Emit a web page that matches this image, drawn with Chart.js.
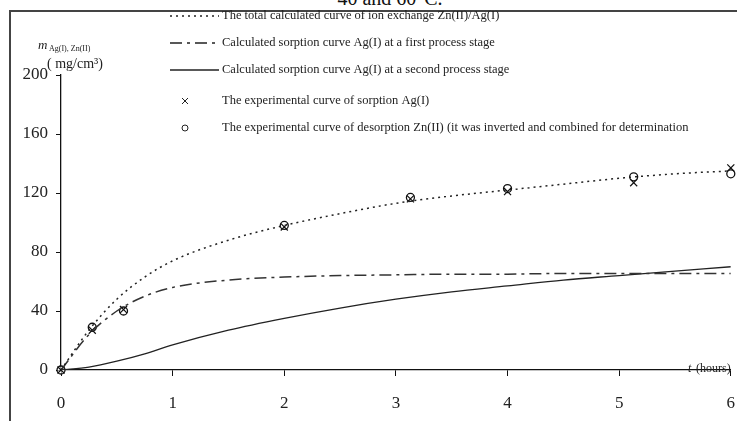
<!DOCTYPE html>
<html>
<head>
<meta charset="utf-8">
<script src="https://cdn.jsdelivr.net/npm/chart.js@4"></script>
<style>
  body { margin: 0; background: #fff; }
  #wrap { position: relative; width: 737px; height: 421px; overflow: hidden; }
  #title { position: absolute; left: 0; width: 780px; top: -13px; text-align: center;
           font: 20px "Liberation Serif", serif; color: #111; }
  #frame { position: absolute; left: 9px; top: 10px; width: 740px; height: 420px;
           border-left: 2px solid #444; border-top: 2px solid #444; }
  canvas { position: absolute; left: 0; top: 0; }
</style>
</head>
<body>
<div id="wrap">
  <div id="title">40 and 60°C.</div>
  <div id="frame"></div>
  <canvas id="chart" width="737" height="421"></canvas>
</div>
<script>
// time (hours) for calculated curves
const tCalc = [0, 0.25, 0.5, 0.75, 1, 1.5, 2, 2.5, 3, 3.5, 4, 4.5, 5, 5.5, 6];
const totalCurve = [0, 27, 48, 63, 74, 88, 98, 106, 113, 118, 122, 126, 130, 133, 135];
const stage1Curve = [0, 24, 40, 50, 56, 61, 63, 64, 64.5, 65, 65, 65.5, 65.5, 65.5, 65.5];
const stage2Curve = [0, 2, 6, 11, 17, 27, 35, 42, 48, 53, 57, 61, 64, 67, 70];

// experimental points
const tExp = [0, 0.28, 0.56, 2, 3.13, 4, 5.13, 6];
const agSorption = [0, 27, 41, 97, 116, 121, 127, 137];
const znDesorption = [0, 29, 40, 98, 117, 123, 131, 133];

const yTicks = [0, 40, 80, 120, 160, 200];

const legendLabels = [
  "The total calculated curve of ion exchange Zn(II)/Ag(I)",
  "Calculated sorption curve Ag(I) at a first process stage",
  "Calculated sorption curve Ag(I) at a second process stage",
  "The experimental curve of sorption Ag(I)",
  "The experimental curve of desorption Zn(II) (it was inverted and combined for determination"
];

function pts(xs, ys) {
  return xs.map((x, i) => ({ x: x, y: ys[i] }));
}

const serif = '"Liberation Serif", "Times New Roman", serif';

const decorPlugin = {
  id: "decor",
  afterDraw(chart) {
    const ctx = chart.ctx;
    ctx.save();
    ctx.fillStyle = "#222";
    ctx.strokeStyle = "#222";
    ctx.textBaseline = "middle";

    // custom legend
    const rows = [16, 43, 70, 101, 128];
    chart.data.datasets.forEach((ds, i) => {
      const y = rows[i];
      if (ds.showLine) {
        ctx.beginPath();
        ctx.lineWidth = ds.borderWidth;
        ctx.setLineDash(ds.borderDash || []);
        ctx.moveTo(170, y);
        ctx.lineTo(219, y);
        ctx.stroke();
        ctx.setLineDash([]);
      } else {
        const cx = 185;
        ctx.lineWidth = 1;
        ctx.beginPath();
        if (ds.pointStyle === "crossRot") {
          ctx.moveTo(cx - 3, y - 3); ctx.lineTo(cx + 3, y + 3);
          ctx.moveTo(cx + 3, y - 3); ctx.lineTo(cx - 3, y + 3);
        } else {
          ctx.arc(cx, y, 3, 0, Math.PI * 2);
        }
        ctx.stroke();
      }
      ctx.font = "12.5px " + serif;
      ctx.textAlign = "left";
      ctx.fillText(legendLabels[i], 222, y);
    });

    // y axis title
    ctx.textAlign = "left";
    ctx.font = "italic 13px " + serif;
    ctx.fillText("m", 38, 46);
    ctx.font = "8px " + serif;
    ctx.fillText("Ag(I), Zn(II)", 49, 49);
    ctx.font = "14px " + serif;
    ctx.fillText("( mg/cm³)", 47, 64);

    // x axis title
    ctx.font = "italic 12px " + serif;
    ctx.fillText("t", 688, 369);
    ctx.font = "12px " + serif;
    ctx.fillText("(hours)", 696, 369);
    ctx.restore();
  }
};

new Chart(document.getElementById("chart"), {
  type: "scatter",
  data: {
    datasets: [
      {
        label: legendLabels[0],
        data: pts(tCalc, totalCurve),
        showLine: true, borderColor: "#222", borderWidth: 1.5,
        borderDash: [2, 4], pointRadius: 0, cubicInterpolationMode: "monotone"
      },
      {
        label: legendLabels[1],
        data: pts(tCalc, stage1Curve),
        showLine: true, borderColor: "#333", borderWidth: 1.5,
        borderDash: [12, 5, 3, 5], pointRadius: 0, cubicInterpolationMode: "monotone"
      },
      {
        label: legendLabels[2],
        data: pts(tCalc, stage2Curve),
        showLine: true, borderColor: "#222", borderWidth: 1.3,
        pointRadius: 0, cubicInterpolationMode: "monotone"
      },
      {
        label: legendLabels[3],
        data: pts(tExp, agSorption),
        showLine: false, pointStyle: "crossRot", pointRadius: 5, clip: false,
        borderColor: "#111", borderWidth: 1.2
      },
      {
        label: legendLabels[4],
        data: pts(tExp, znDesorption),
        showLine: false, pointStyle: "circle", pointRadius: 4, clip: false,
        borderColor: "#111", backgroundColor: "rgba(255,255,255,0.6)", borderWidth: 1.3
      }
    ]
  },
  options: {
    responsive: false,
    animation: false,
    layout: { padding: { top: 75, right: 2, left: 0, bottom: 0 } },
    plugins: { legend: { display: false }, tooltip: { enabled: false } },
    scales: {
      x: {
        type: "linear", min: 0, max: 6,
        afterFit(scale) {
          scale.height = 51;
          scale.paddingLeft = 0;
          scale.paddingRight = 0;
        },
        ticks: { stepSize: 1, padding: 17, color: "#222", font: { family: serif, size: 17 } },
        grid: { drawOnChartArea: false, drawTicks: true, tickLength: 6, color: "#111" },
        border: { display: true, color: "#111", width: 1.3 }
      },
      y: {
        min: 0, max: 200,
        afterFit(scale) { scale.width = 61; },
        afterBuildTicks(scale) { scale.ticks = yTicks.map(v => ({ value: v })); },
        ticks: { padding: 8, color: "#222", font: { family: serif, size: 17 } },
        grid: { drawOnChartArea: false, drawTicks: true, tickLength: 5, color: "#111" },
        border: { display: true, color: "#111", width: 1.3 }
      }
    }
  },
  plugins: [decorPlugin]
});
</script>
</body>
</html>
